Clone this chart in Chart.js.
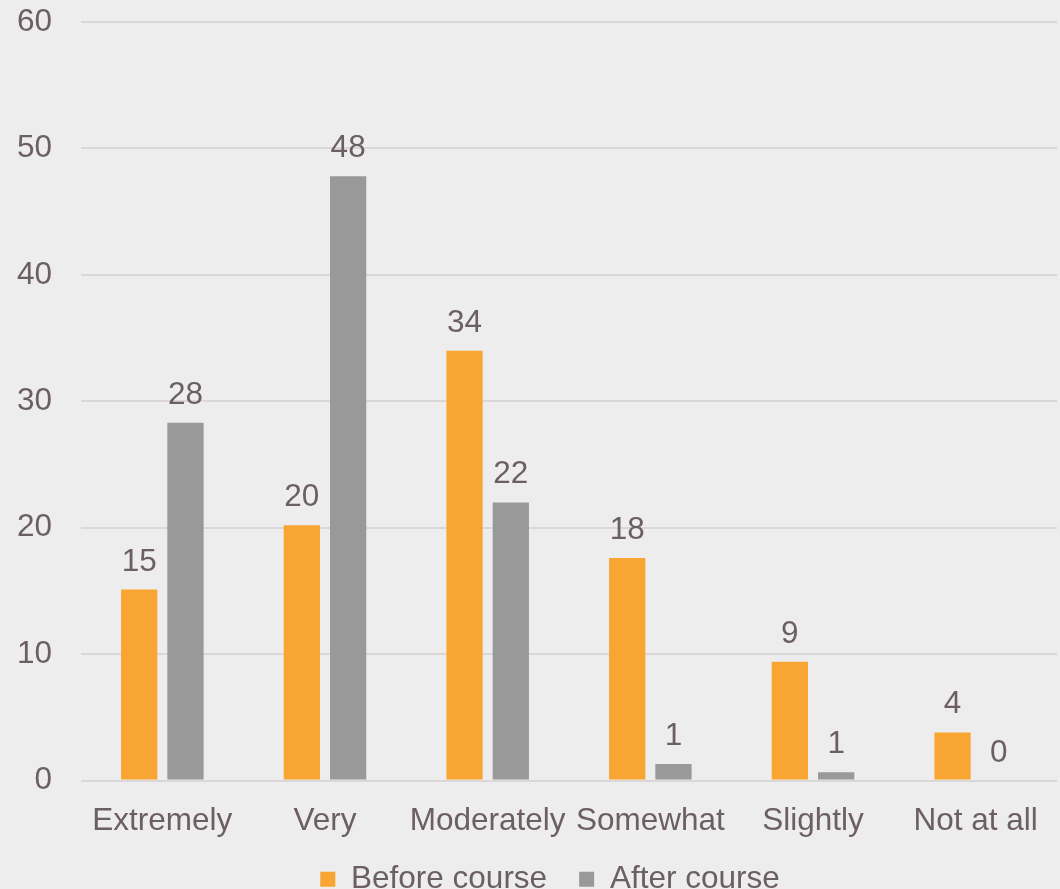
<!DOCTYPE html>
<html>
<head>
<meta charset="utf-8">
<script src="https://cdn.jsdelivr.net/npm/chart.js@4"></script>
<style>
  html, body { margin: 0; padding: 0; background: #ededed; overflow: hidden; }
  #chart { display: block; }
</style>
</head>
<body>
<canvas id="chart" width="1060" height="913"></canvas>
<script>
const categories = ['Extremely', 'Very', 'Moderately', 'Somewhat', 'Slightly', 'Not at all'];
const beforeCourse = [15.1, 20.2, 34.0, 17.6, 9.4, 3.8];
const afterCourse = [28.3, 47.8, 22.0, 1.3, 0.65, 0];
const seriesNames = ['Before course', 'After course'];
const yTicks = [0, 10, 20, 30, 40, 50, 60];

const TEXT = '#6b5f63';
const FONT = { family: '"Liberation Sans", Arial, sans-serif', size: 31.5 };

// value labels above each bar, rounded to whole numbers
const barValues = {
    id: 'barValues',
    afterDatasetsDraw(chart) {
        const ctx = chart.ctx;
        ctx.save();
        ctx.font = `${FONT.size}px ${FONT.family}`;
        ctx.fillStyle = TEXT;
        ctx.textAlign = 'center';
        ctx.textBaseline = 'alphabetic';
        chart.data.datasets.forEach((ds, i) => {
            chart.getDatasetMeta(i).data.forEach((bar, j) => {
                ctx.fillText(Math.round(ds.data[j]), bar.x, bar.y - 19);
            });
        });
        ctx.restore();
    }
};

// move the legend right of centre and up a bit, closer to the axis labels
const legendShift = {
    id: 'legendShift',
    afterLayout(chart) {
        const lg = chart.legend;
        lg.left += 43;
        lg.top -= 8;
        lg.bottom -= 8;
    }
};

new Chart(document.getElementById('chart').getContext('2d'), {
    type: 'bar',
    data: {
        labels: categories,
        datasets: [
            {
                label: seriesNames[0],
                data: beforeCourse,
                backgroundColor: '#f9a533',
                categoryPercentage: 0.569,
                barPercentage: 0.784
            },
            {
                label: seriesNames[1],
                data: afterCourse,
                backgroundColor: '#999999',
                categoryPercentage: 0.569,
                barPercentage: 0.784
            }
        ]
    },
    options: {
        responsive: false,
        animation: false,
        layout: { padding: { top: 22, right: 3, left: 0, bottom: 0 } },
        plugins: {
            tooltip: { enabled: false },
            legend: {
                position: 'bottom',
                labels: {
                    color: TEXT,
                    font: FONT,
                    boxWidth: 15,
                    boxHeight: 15,
                    padding: 32
                }
            }
        },
        scales: {
            x: {
                grid: { display: false },
                border: { display: false },
                ticks: { color: TEXT, font: FONT, padding: 14, maxRotation: 0, autoSkip: false },
                afterFit: s => { s.height = 59; }
            },
            y: {
                min: 0,
                max: 60,
                afterBuildTicks: s => { s.ticks = yTicks.map(v => ({ value: v })); },
                grid: { color: '#dbd7d7', lineWidth: 2, drawTicks: false },
                border: { display: false },
                ticks: { color: TEXT, font: FONT, padding: 29 },
                afterFit: s => { s.width = 81; s.paddingTop = 0; s.paddingBottom = 0; }
            }
        }
    },
    plugins: [barValues, legendShift]
});
</script>
</body>
</html>
